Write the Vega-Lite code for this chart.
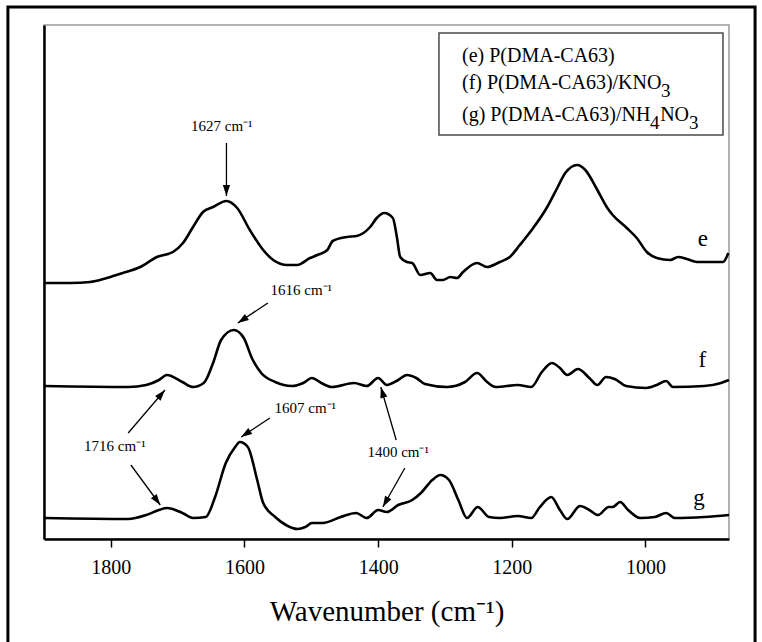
{
  "$schema": "https://vega.github.io/schema/vega-lite/v6.json",
  "width": 685,
  "height": 514,
  "autosize": {"type": "none"},
  "padding": {"left": 44, "top": 25, "right": 33, "bottom": 103},
  "background": "white",
  "config": {
    "view": {"stroke": "#9a9a9a", "strokeWidth": 1.5},
    "font": "'Liberation Serif', 'Times New Roman', Times, serif",
    "text": {"font": "'Liberation Serif', 'Times New Roman', Times, serif", "color": "black"}
  },
  "datasets": {
    "spectra": [
      {"s": "e", "wn": 1900, "a": 256}, {"s": "e", "wn": 1860, "a": 256}, {"s": "e", "wn": 1831, "a": 257}, {"s": "e", "wn": 1806, "a": 261},
      {"s": "e", "wn": 1782, "a": 266}, {"s": "e", "wn": 1756, "a": 272}, {"s": "e", "wn": 1731, "a": 282},
      {"s": "e", "wn": 1707, "a": 287}, {"s": "e", "wn": 1692, "a": 296}, {"s": "e", "wn": 1677, "a": 312},
      {"s": "e", "wn": 1662, "a": 327}, {"s": "e", "wn": 1647, "a": 332}, {"s": "e", "wn": 1627, "a": 338},
      {"s": "e", "wn": 1611, "a": 331}, {"s": "e", "wn": 1592, "a": 309}, {"s": "e", "wn": 1572, "a": 289},
      {"s": "e", "wn": 1557, "a": 279}, {"s": "e", "wn": 1536, "a": 274}, {"s": "e", "wn": 1521, "a": 274},
      {"s": "e", "wn": 1502, "a": 281}, {"s": "e", "wn": 1491, "a": 284}, {"s": "e", "wn": 1476, "a": 289},
      {"s": "e", "wn": 1468, "a": 298}, {"s": "e", "wn": 1447, "a": 302}, {"s": "e", "wn": 1432, "a": 303},
      {"s": "e", "wn": 1412, "a": 312}, {"s": "e", "wn": 1402, "a": 321}, {"s": "e", "wn": 1391, "a": 326},
      {"s": "e", "wn": 1378, "a": 321}, {"s": "e", "wn": 1372, "a": 302}, {"s": "e", "wn": 1367, "a": 282},
      {"s": "e", "wn": 1357, "a": 277}, {"s": "e", "wn": 1349, "a": 276}, {"s": "e", "wn": 1337, "a": 264},
      {"s": "e", "wn": 1322, "a": 266}, {"s": "e", "wn": 1312, "a": 259}, {"s": "e", "wn": 1303, "a": 259},
      {"s": "e", "wn": 1292, "a": 262}, {"s": "e", "wn": 1282, "a": 261}, {"s": "e", "wn": 1273, "a": 267},
      {"s": "e", "wn": 1252, "a": 276}, {"s": "e", "wn": 1237, "a": 272}, {"s": "e", "wn": 1218, "a": 277},
      {"s": "e", "wn": 1203, "a": 282}, {"s": "e", "wn": 1188, "a": 294}, {"s": "e", "wn": 1168, "a": 311},
      {"s": "e", "wn": 1147, "a": 332}, {"s": "e", "wn": 1132, "a": 351}, {"s": "e", "wn": 1120, "a": 366},
      {"s": "e", "wn": 1102, "a": 374}, {"s": "e", "wn": 1090, "a": 369}, {"s": "e", "wn": 1072, "a": 349},
      {"s": "e", "wn": 1057, "a": 331}, {"s": "e", "wn": 1049, "a": 324}, {"s": "e", "wn": 1028, "a": 311},
      {"s": "e", "wn": 1013, "a": 301}, {"s": "e", "wn": 998, "a": 287}, {"s": "e", "wn": 983, "a": 281},
      {"s": "e", "wn": 963, "a": 279}, {"s": "e", "wn": 951, "a": 282}, {"s": "e", "wn": 938, "a": 280},
      {"s": "e", "wn": 923, "a": 277}, {"s": "e", "wn": 899, "a": 277}, {"s": "e", "wn": 884, "a": 277},
      {"s": "e", "wn": 876, "a": 286},

      {"s": "f", "wn": 1900, "a": 153}, {"s": "f", "wn": 1774, "a": 152}, {"s": "f", "wn": 1747, "a": 154},
      {"s": "f", "wn": 1728, "a": 159}, {"s": "f", "wn": 1716, "a": 164}, {"s": "f", "wn": 1693, "a": 157},
      {"s": "f", "wn": 1677, "a": 152}, {"s": "f", "wn": 1661, "a": 156}, {"s": "f", "wn": 1647, "a": 176},
      {"s": "f", "wn": 1635, "a": 199}, {"s": "f", "wn": 1616, "a": 209}, {"s": "f", "wn": 1601, "a": 201},
      {"s": "f", "wn": 1589, "a": 181}, {"s": "f", "wn": 1575, "a": 166}, {"s": "f", "wn": 1554, "a": 157},
      {"s": "f", "wn": 1529, "a": 153}, {"s": "f", "wn": 1512, "a": 156}, {"s": "f", "wn": 1499, "a": 161},
      {"s": "f", "wn": 1485, "a": 156}, {"s": "f", "wn": 1469, "a": 152}, {"s": "f", "wn": 1436, "a": 156},
      {"s": "f", "wn": 1417, "a": 153}, {"s": "f", "wn": 1400, "a": 161}, {"s": "f", "wn": 1387, "a": 154},
      {"s": "f", "wn": 1370, "a": 159}, {"s": "f", "wn": 1357, "a": 164}, {"s": "f", "wn": 1343, "a": 161},
      {"s": "f", "wn": 1330, "a": 155}, {"s": "f", "wn": 1297, "a": 152}, {"s": "f", "wn": 1270, "a": 157},
      {"s": "f", "wn": 1252, "a": 166}, {"s": "f", "wn": 1237, "a": 157}, {"s": "f", "wn": 1224, "a": 152},
      {"s": "f", "wn": 1191, "a": 154}, {"s": "f", "wn": 1171, "a": 152}, {"s": "f", "wn": 1155, "a": 167},
      {"s": "f", "wn": 1140, "a": 176}, {"s": "f", "wn": 1128, "a": 171}, {"s": "f", "wn": 1117, "a": 164},
      {"s": "f", "wn": 1101, "a": 170}, {"s": "f", "wn": 1084, "a": 161}, {"s": "f", "wn": 1072, "a": 154},
      {"s": "f", "wn": 1059, "a": 162}, {"s": "f", "wn": 1046, "a": 160}, {"s": "f", "wn": 1029, "a": 153},
      {"s": "f", "wn": 999, "a": 151}, {"s": "f", "wn": 983, "a": 154}, {"s": "f", "wn": 969, "a": 158},
      {"s": "f", "wn": 959, "a": 152}, {"s": "f", "wn": 912, "a": 153}, {"s": "f", "wn": 887, "a": 156},
      {"s": "f", "wn": 875, "a": 159},

      {"s": "g", "wn": 1900, "a": 21}, {"s": "g", "wn": 1774, "a": 20}, {"s": "g", "wn": 1747, "a": 24},
      {"s": "g", "wn": 1728, "a": 29}, {"s": "g", "wn": 1716, "a": 31}, {"s": "g", "wn": 1693, "a": 26},
      {"s": "g", "wn": 1677, "a": 21}, {"s": "g", "wn": 1658, "a": 22}, {"s": "g", "wn": 1644, "a": 42},
      {"s": "g", "wn": 1628, "a": 76}, {"s": "g", "wn": 1614, "a": 92}, {"s": "g", "wn": 1607, "a": 97},
      {"s": "g", "wn": 1595, "a": 92}, {"s": "g", "wn": 1581, "a": 59}, {"s": "g", "wn": 1572, "a": 36},
      {"s": "g", "wn": 1554, "a": 22}, {"s": "g", "wn": 1538, "a": 14}, {"s": "g", "wn": 1521, "a": 10},
      {"s": "g", "wn": 1509, "a": 12}, {"s": "g", "wn": 1499, "a": 16}, {"s": "g", "wn": 1483, "a": 16},
      {"s": "g", "wn": 1456, "a": 22}, {"s": "g", "wn": 1433, "a": 26}, {"s": "g", "wn": 1417, "a": 21},
      {"s": "g", "wn": 1400, "a": 29}, {"s": "g", "wn": 1387, "a": 27}, {"s": "g", "wn": 1370, "a": 34},
      {"s": "g", "wn": 1349, "a": 39}, {"s": "g", "wn": 1336, "a": 46}, {"s": "g", "wn": 1319, "a": 59},
      {"s": "g", "wn": 1307, "a": 64}, {"s": "g", "wn": 1294, "a": 59}, {"s": "g", "wn": 1280, "a": 39},
      {"s": "g", "wn": 1267, "a": 21}, {"s": "g", "wn": 1251, "a": 32}, {"s": "g", "wn": 1234, "a": 22},
      {"s": "g", "wn": 1218, "a": 21}, {"s": "g", "wn": 1191, "a": 23}, {"s": "g", "wn": 1171, "a": 21},
      {"s": "g", "wn": 1158, "a": 32}, {"s": "g", "wn": 1141, "a": 42}, {"s": "g", "wn": 1128, "a": 29},
      {"s": "g", "wn": 1117, "a": 20}, {"s": "g", "wn": 1098, "a": 33}, {"s": "g", "wn": 1084, "a": 29},
      {"s": "g", "wn": 1071, "a": 24}, {"s": "g", "wn": 1055, "a": 32}, {"s": "g", "wn": 1049, "a": 32},
      {"s": "g", "wn": 1038, "a": 37}, {"s": "g", "wn": 1026, "a": 29}, {"s": "g", "wn": 1008, "a": 21},
      {"s": "g", "wn": 986, "a": 22}, {"s": "g", "wn": 969, "a": 26}, {"s": "g", "wn": 956, "a": 21},
      {"s": "g", "wn": 912, "a": 22}, {"s": "g", "wn": 875, "a": 24}
    ],
    "arrows": [
      {"peak": "1627", "wn": 1627, "v": 396, "wn2": 1627, "v2": 343},
      {"peak": "1616", "wn": 1565, "v": 236, "wn2": 1610, "v2": 216},
      {"peak": "1607", "wn": 1562, "v": 121, "wn2": 1605, "v2": 102},
      {"peak": "1716f", "wn": 1774, "v": 106, "wn2": 1719, "v2": 149},
      {"peak": "1716g", "wn": 1770, "v": 74, "wn2": 1726, "v2": 34},
      {"peak": "1400f", "wn": 1373, "v": 99, "wn2": 1396, "v2": 152},
      {"peak": "1400g", "wn": 1360, "v": 71, "wn2": 1393, "v2": 32}
    ],
    "peakLabels": [
      {"text": "1627 cm⁻¹", "wn": 1634, "v": 408},
      {"text": "1616 cm⁻¹", "wn": 1515, "v": 244},
      {"text": "1607 cm⁻¹", "wn": 1509, "v": 126},
      {"text": "1716 cm⁻¹", "wn": 1794, "v": 88},
      {"text": "1400 cm⁻¹", "wn": 1370, "v": 82}
    ],
    "seriesLabels": [
      {"text": "e", "wn": 914, "v": 300},
      {"text": "f", "wn": 915, "v": 179},
      {"text": "g", "wn": 920, "v": 41}
    ],
    "legendRows": [
      {"text": "(e) P(DMA-CA63)", "wn": 1274.5, "v": 477},
      {"text": "(f) P(DMA-CA63)/KNO", "wn": 1274.5, "v": 450},
      {"text": "(g) P(DMA-CA63)/NH", "wn": 1274.5, "v": 418},
      {"text": "NO", "wn": 978, "v": 418}
    ],
    "legendSubscripts": [
      {"text": "3", "wn": 976.7, "v": 442},
      {"text": "4", "wn": 993.2, "v": 410},
      {"text": "3", "wn": 934.8, "v": 410}
    ]
  },
  "layer": [
    {
      "data": {"values": [{}]},
      "mark": {"type": "rect", "fill": null, "stroke": "black", "strokeWidth": 3, "clip": false},
      "encoding": {
        "x": {"datum": 1954, "type": "quantitative", "scale": {"domain": [875, 1900], "reverse": true, "nice": false, "zero": false}},
        "x2": {"datum": 836},
        "y": {"datum": 532, "type": "quantitative", "scale": {"domain": [0, 514], "nice": false, "zero": false}},
        "y2": {"datum": -111}
      }
    },
    {
      "data": {"values": [{}]},
      "mark": {"type": "rect", "fill": "white", "stroke": "#4a4a4a", "strokeWidth": 1.5},
      "encoding": {
        "x": {"datum": 1309, "type": "quantitative"},
        "x2": {"datum": 884},
        "y": {"datum": 506, "type": "quantitative"},
        "y2": {"datum": 404}
      }
    },
    {
      "data": {"name": "spectra"},
      "mark": {"type": "line", "color": "black", "strokeWidth": 2.6, "interpolate": "monotone", "strokeJoin": "round"},
      "encoding": {
        "x": {
          "field": "wn", "type": "quantitative",
          "axis": {
            "title": "Wavenumber (cm⁻¹)",
            "values": [1800, 1600, 1400, 1200, 1000],
            "format": "d",
            "grid": false,
            "domainColor": "black", "domainWidth": 2.5,
            "tickColor": "black", "tickWidth": 1.5, "tickSize": 8,
            "labelFont": "'Liberation Serif', 'Times New Roman', Times, serif", "labelFontSize": 20, "labelColor": "black", "labelPadding": 10,
            "titleFont": "'Liberation Serif', 'Times New Roman', Times, serif", "titleFontSize": 29, "titleFontWeight": "normal", "titleColor": "black", "titlePadding": 20
          }
        },
        "y": {
          "field": "a", "type": "quantitative",
          "axis": {"title": null, "labels": false, "ticks": false, "grid": false, "domainColor": "black", "domainWidth": 2.5}
        },
        "detail": {"field": "s"}
      }
    },
    {
      "data": {"name": "arrows"},
      "mark": {"type": "rule", "color": "black", "strokeWidth": 1.3},
      "encoding": {
        "x": {"field": "wn", "type": "quantitative"},
        "y": {"field": "v", "type": "quantitative"},
        "x2": {"field": "wn2"},
        "y2": {"field": "v2"}
      }
    },
    {
      "data": {"name": "arrows"},
      "transform": [
        {"calculate": "atan2(-(datum.wn2 - datum.wn) * 685 / 1025, datum.v2 - datum.v) * 180 / PI", "as": "heading"}
      ],
      "mark": {"type": "point", "shape": "M0,0L-0.33,1L0.33,1Z", "filled": true, "color": "black", "size": 480, "opacity": 1},
      "encoding": {
        "x": {"field": "wn2", "type": "quantitative"},
        "y": {"field": "v2", "type": "quantitative"},
        "angle": {"field": "heading", "type": "quantitative", "scale": null}
      }
    },
    {
      "data": {"name": "peakLabels"},
      "mark": {"type": "text", "fontSize": 15, "align": "center", "baseline": "alphabetic"},
      "encoding": {
        "x": {"field": "wn", "type": "quantitative"},
        "y": {"field": "v", "type": "quantitative"},
        "text": {"field": "text"}
      }
    },
    {
      "data": {"name": "seriesLabels"},
      "mark": {"type": "text", "fontSize": 23, "align": "center", "baseline": "middle"},
      "encoding": {
        "x": {"field": "wn", "type": "quantitative"},
        "y": {"field": "v", "type": "quantitative"},
        "text": {"field": "text"}
      }
    },
    {
      "data": {"name": "legendRows"},
      "mark": {"type": "text", "fontSize": 20, "align": "left", "baseline": "alphabetic"},
      "encoding": {
        "x": {"field": "wn", "type": "quantitative"},
        "y": {"field": "v", "type": "quantitative"},
        "text": {"field": "text"}
      }
    },
    {
      "data": {"name": "legendSubscripts"},
      "mark": {"type": "text", "fontSize": 19, "align": "left", "baseline": "alphabetic"},
      "encoding": {
        "x": {"field": "wn", "type": "quantitative"},
        "y": {"field": "v", "type": "quantitative"},
        "text": {"field": "text"}
      }
    }
  ]
}
